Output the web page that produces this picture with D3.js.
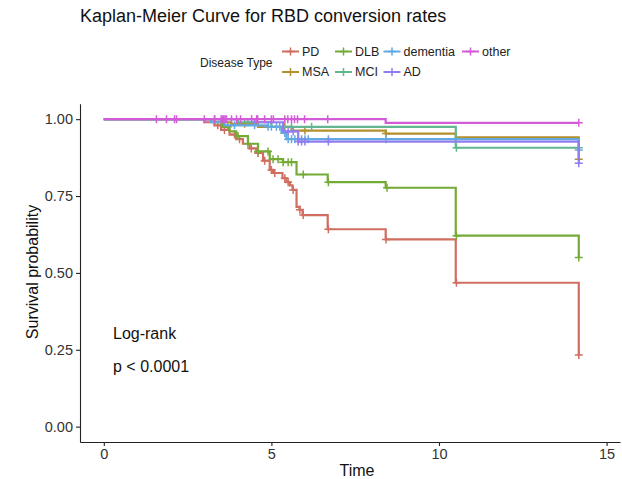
<!DOCTYPE html>
<html>
<head>
<meta charset="utf-8">
<script src="https://cdn.jsdelivr.net/npm/d3@7"></script>
<style>
  html, body { margin: 0; padding: 0; background: #fff; }
  svg { display: block; font-family: "Liberation Sans", Arial, Helvetica, sans-serif; }
</style>
</head>
<body>
<svg id="chart" width="622" height="479"></svg>
<script>
// Disease groups, in plotting order
const groups = ["PD", "MSA", "DLB", "MCI", "dementia", "AD", "other"];
const groupColors = ["#D06E60", "#B3902C", "#74AB36", "#62B790", "#62A9E2", "#917DF2", "#D25BD8"];

// Kaplan-Meier steps per group: [time, survival after the event]
const pdSteps = [[0, 1], [3.0, 0.99], [3.3, 0.98], [3.5, 0.965], [3.75, 0.95], [3.95, 0.935], [4.15, 0.92],
  [4.35, 0.905], [4.55, 0.89], [4.75, 0.865], [4.95, 0.835], [5.05, 0.825], [5.33, 0.808], [5.45, 0.795],
  [5.55, 0.785], [5.63, 0.77], [5.75, 0.715], [5.84, 0.705], [5.93, 0.688], [6.68, 0.642], [8.41, 0.609],
  [10.5, 0.468], [14.17, 0.233]];
const msaSteps = [[0, 1], [3.5, 0.99], [3.8, 0.985], [4.6, 0.975], [5.6, 0.963], [8.41, 0.953],
  [10.5, 0.941], [14.17, 0.87]];
const dlbSteps = [[0, 1], [3.3, 0.99], [3.55, 0.975], [3.75, 0.96], [3.95, 0.945], [4.3, 0.92],
  [4.6, 0.895], [4.95, 0.87], [5.35, 0.86], [5.75, 0.82], [6.68, 0.795], [8.41, 0.777], [10.5, 0.621],
  [14.17, 0.55]];
const mciSteps = [[0, 1], [4.0, 0.99], [5.0, 0.975], [10.5, 0.907]];
const dementiaSteps = [[0, 1], [3.2, 0.99], [3.6, 0.98], [4.9, 0.975], [5.3, 0.955], [5.45, 0.935],
  [14.17, 0.90]];
const adSteps = [[0, 1], [4.5, 0.99], [5.35, 0.96], [5.8, 0.927], [14.17, 0.857]];
const otherSteps = [[0, 1], [8.41, 0.988]];

// Censoring times per group
const pdCensor = [3.4, 3.6, 3.9, 4.05, 4.4, 4.6, 4.8, 5.0, 5.1, 5.4, 5.5, 5.65, 5.85, 5.95, 6.7, 8.42, 10.52, 14.17];
const msaCensor = [3.3, 4.2, 5.4, 6.0, 8.42, 14.17];
const dlbCensor = [3.5, 3.7, 4.0, 4.3, 4.6, 4.9, 5.05, 5.2, 5.35, 5.5, 5.6, 5.95, 6.7, 8.45, 10.52, 14.17];
const mciCensor = [4.3, 5.6, 6.2, 10.52, 14.17];
const dementiaCensor = [3.9, 4.5, 4.9, 5.0, 5.15, 5.25, 5.4, 5.5, 5.6, 5.7, 5.8, 5.9, 6.0, 6.1, 6.7, 8.42, 14.17];
const adCensor = [5.5, 5.65, 5.8, 5.9, 6.0, 6.7, 14.17];
const otherCensor = [1.57, 1.87, 2.11, 2.17, 3.0, 3.31, 3.5, 3.54, 3.58, 3.62, 3.66, 3.81, 3.96, 4.08, 4.41,
  4.56, 4.59, 4.8, 5.0, 5.06, 5.4, 5.49, 5.6, 5.69, 5.78, 5.99, 6.68, 14.17];

const xTicks = [0, 5, 10, 15];
const yTicks = [0, 0.25, 0.5, 0.75, 1];
const titleText = "Kaplan-Meier Curve for RBD conversion rates";
const legendTitle = "Disease Type";
const pvalLines = ["Log-rank", "p < 0.0001"];

const stepsByGroup = [pdSteps, msaSteps, dlbSteps, mciSteps, dementiaSteps, adSteps, otherSteps];
const censorByGroup = [pdCensor, msaCensor, dlbCensor, mciCensor, dementiaCensor, adCensor, otherCensor];

const svg = d3.select("#chart");
const x = d3.scaleLinear().domain([-0.71, 15.4]).range([80, 620]);
const y = d3.scaleLinear().domain([-0.05, 1.05]).range([442, 103.8]);

// survival at time t (right-continuous step function)
function survAt(steps, t) {
  let v = steps[0][1];
  for (const [st, sv] of steps) { if (st <= t + 1e-9) v = sv; }
  return v;
}

const line = d3.line().x(d => x(d[0])).y(d => y(d[1])).curve(d3.curveStepAfter);

function crossPath(cx, cy, r) {
  return `M${cx - r},${cy}H${cx + r}M${cx},${cy - r}V${cy + r}`;
}

// Curves
const curves = svg.append("g");
groups.forEach((g, i) => {
  const steps = stepsByGroup[i];
  const cens = censorByGroup[i];
  const pts = steps.slice();
  const lastT = d3.max(cens);
  if (lastT > steps[steps.length - 1][0]) pts.push([lastT, survAt(steps, lastT)]);
  const gg = curves.append("g");
  gg.append("path").attr("d", line(pts)).attr("fill", "none")
    .attr("stroke", groupColors[i]).attr("stroke-width", 2.2);
  gg.selectAll("path.cens").data(cens).join("path").attr("class", "cens")
    .attr("d", t => crossPath(x(t), y(survAt(steps, t)), 4))
    .attr("stroke", groupColors[i]).attr("stroke-width", 1.5).attr("fill", "none");
});

// Axes
const axisColor = "#222";
const xAxis = svg.append("g").attr("transform", "translate(0,442)")
  .call(d3.axisBottom(x).tickValues(xTicks).tickSize(4).tickSizeOuter(0).tickPadding(3).tickFormat(d3.format("d")));
const yAxis = svg.append("g").attr("transform", "translate(80,0)")
  .call(d3.axisLeft(y).tickValues(yTicks).tickSize(4).tickSizeOuter(0).tickPadding(3).tickFormat(d3.format(".2f")));
[xAxis, yAxis].forEach(a => {
  a.select(".domain").attr("stroke", axisColor).attr("stroke-width", 1.1);
  a.selectAll(".tick line").attr("stroke", axisColor).attr("stroke-width", 1.1);
  a.selectAll(".tick text").attr("fill", "#333").style("font-size", "14.5px")
    .style("font-family", "'Liberation Sans', Arial, sans-serif");
});

// Axis titles
svg.append("text").attr("x", 357).attr("y", 476).attr("text-anchor", "middle")
  .style("font-size", "16px").attr("fill", "#111").text("Time");
svg.append("text").attr("transform", "translate(38,272) rotate(-90)").attr("text-anchor", "middle")
  .style("font-size", "16px").attr("fill", "#111").text("Survival probability");

// Title
svg.append("text").attr("x", 80).attr("y", 22).style("font-size", "18px").attr("fill", "#111").text(titleText);

// Log-rank annotation
svg.append("text").attr("x", 113).attr("y", 339).style("font-size", "16px").attr("fill", "#111").text(pvalLines[0]);
svg.append("text").attr("x", 113).attr("y", 372).style("font-size", "16px").attr("fill", "#111").text(pvalLines[1]);

// Legend
const legend = svg.append("g");
legend.append("text").attr("x", 200).attr("y", 62.5).attr("dominant-baseline", "central")
  .style("font-size", "12px").attr("fill", "#222").text(legendTitle);
const colX = [282, 335, 383.5, 462];
const rowY = [51.5, 72];
groups.forEach((g, i) => {
  const col = Math.floor(i / 2), row = i % 2;
  const kx = colX[col], ky = rowY[row];
  const item = legend.append("g");
  item.append("line").attr("x1", kx).attr("x2", kx + 17).attr("y1", ky).attr("y2", ky)
    .attr("stroke", groupColors[i]).attr("stroke-width", 2);
  item.append("path").attr("d", crossPath(kx + 8.5, ky, 4)).attr("stroke", groupColors[i])
    .attr("stroke-width", 1.5);
  item.append("text").attr("x", kx + 20).attr("y", ky).attr("dominant-baseline", "central")
    .style("font-size", "12.5px").attr("fill", "#222").text(g);
});
</script>
</body>
</html>
